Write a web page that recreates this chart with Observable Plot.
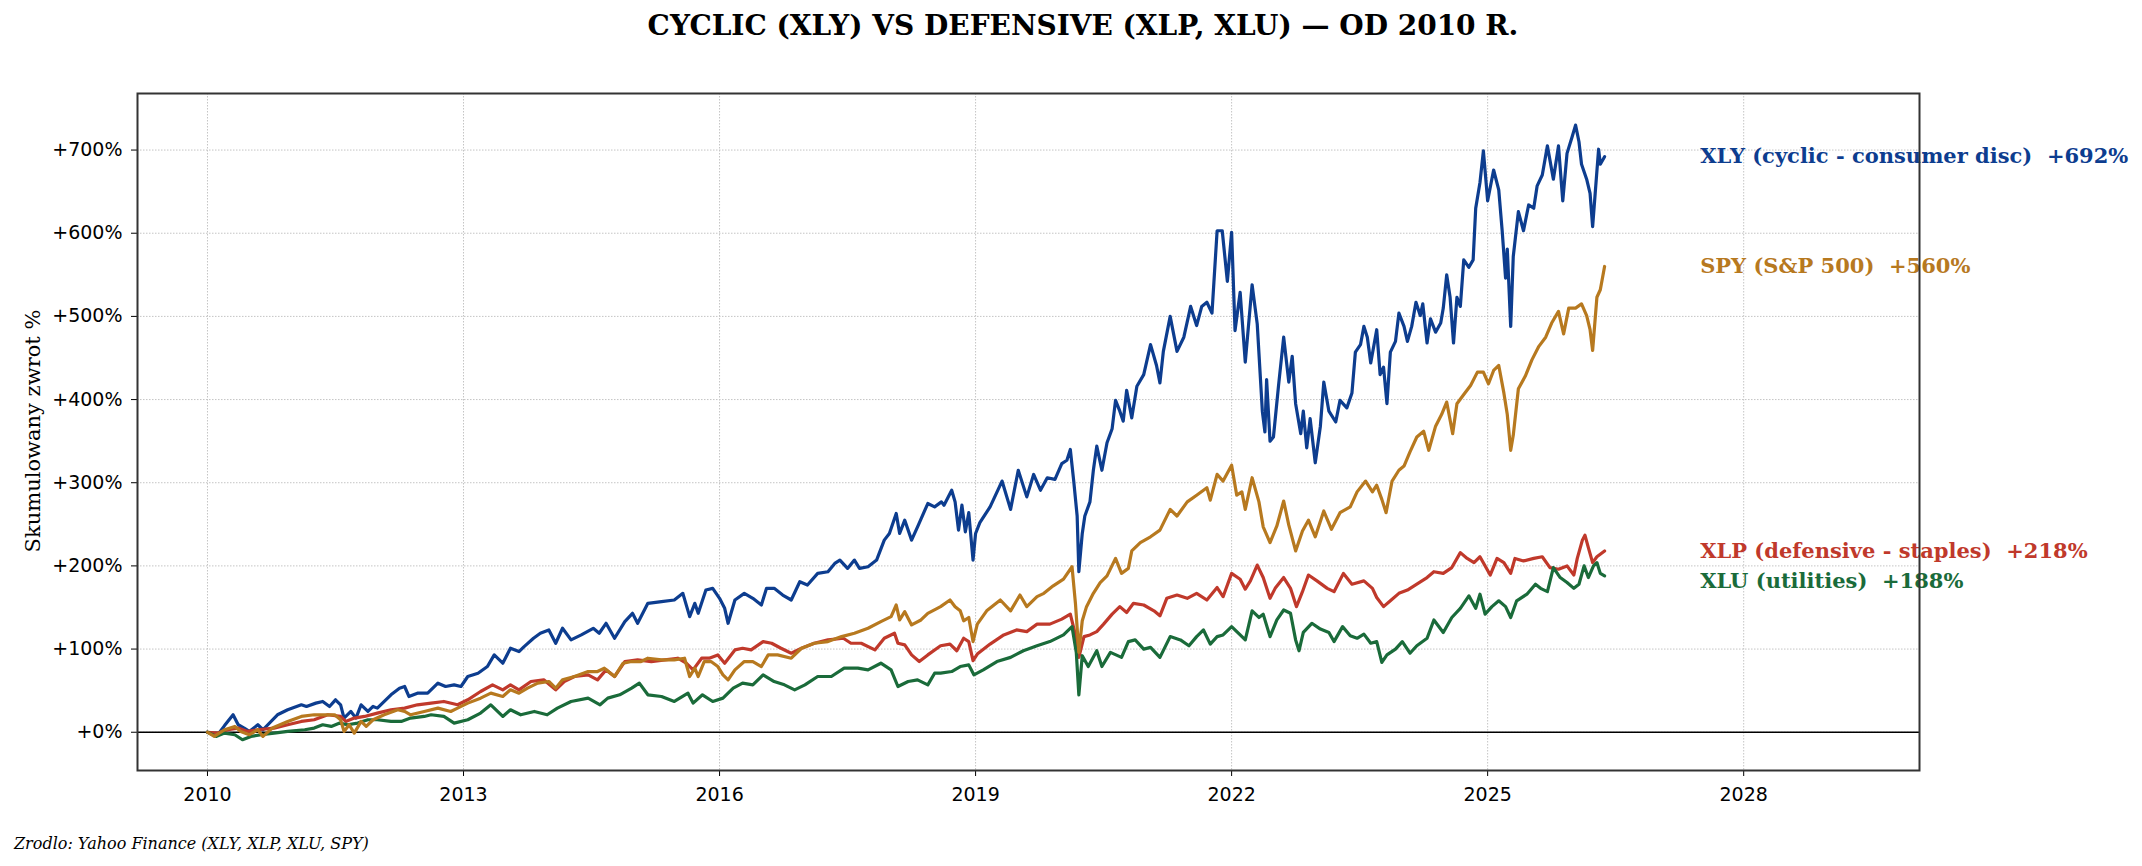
<!DOCTYPE html>
<html>
<head>
<meta charset="utf-8">
<script src="https://cdn.jsdelivr.net/npm/d3@7"></script>
<script src="https://cdn.jsdelivr.net/npm/@observablehq/plot@0.6"></script>
<style>
  html, body { margin: 0; padding: 0; background: #fff; }
  #page { position: relative; width: 2142px; height: 866px; overflow: hidden; background: #fff; }
  #title { position: absolute; left: 0; top: 0; width: 2142px; height: 52px; line-height: 52px; text-align: center;
           font-family: "DejaVu Serif", serif; font-weight: bold; font-size: 28px; color: #000; box-sizing: border-box; padding-left: 24px; }
  #chart { position: absolute; left: 0; top: 50px; }
  #ylabel { position: absolute; left: 33px; top: 431px; transform: translate(-50%, -50%) rotate(-90deg);
            font-family: "DejaVu Serif", serif; font-size: 21px; white-space: nowrap; color: #000; }
  #caption { position: absolute; left: 14px; top: 830px; line-height: 28px; font-family: "DejaVu Serif", serif;
             font-style: italic; font-size: 16px; color: #000; }
  svg text { white-space: pre; }
</style>
</head>
<body>
<div id="page">
  <div id="title">CYCLIC (XLY) VS DEFENSIVE (XLP, XLU) — OD 2010 R.</div>
  <div id="chart"></div>
  <div id="ylabel">Skumulowany zwrot %</div>
  <div id="caption">Zrodlo: Yahoo Finance (XLY, XLP, XLU, SPY)</div>
</div>
<script>
// ---- data: [decimal year, cumulative return %] ----
const XLY = [[2010.00,0],[2010.12,-3],[2010.20,8],[2010.30,21],[2010.36,9],[2010.43,5],[2010.49,1],[2010.59,9],[2010.65,3],[2010.82,21],[2010.94,27],[2011.10,33],[2011.16,31],[2011.27,35],[2011.35,37],[2011.43,31],[2011.50,39],[2011.56,33],[2011.60,17],[2011.68,25],[2011.74,17],[2011.80,33],[2011.88,25],[2011.94,31],[2011.99,29],[2012.15,45],[2012.25,53],[2012.31,55],[2012.36,43],[2012.46,47],[2012.58,47],[2012.70,59],[2012.79,55],[2012.89,57],[2012.97,55],[2013.05,67],[2013.17,71],[2013.28,79],[2013.36,93],[2013.46,83],[2013.55,101],[2013.65,97],[2013.71,103],[2013.82,113],[2013.90,119],[2014.00,123],[2014.08,107],[2014.16,125],[2014.26,111],[2014.38,117],[2014.52,125],[2014.59,119],[2014.67,131],[2014.77,113],[2014.89,133],[2014.98,143],[2015.04,131],[2015.16,155],[2015.32,157],[2015.47,159],[2015.57,167],[2015.65,139],[2015.71,155],[2015.75,143],[2015.84,171],[2015.92,173],[2016.00,161],[2016.06,149],[2016.10,131],[2016.18,159],[2016.29,167],[2016.39,161],[2016.49,153],[2016.55,173],[2016.64,173],[2016.74,165],[2016.84,159],[2016.94,181],[2017.03,177],[2017.15,191],[2017.27,193],[2017.35,203],[2017.41,207],[2017.50,197],[2017.58,207],[2017.64,197],[2017.74,199],[2017.84,207],[2017.93,231],[2017.99,239],[2018.07,263],[2018.11,239],[2018.17,255],[2018.25,231],[2018.32,247],[2018.44,275],[2018.52,271],[2018.60,277],[2018.63,273],[2018.72,291],[2018.76,277],[2018.80,243],[2018.84,273],[2018.88,241],[2018.92,264],[2018.97,207],[2019.00,239],[2019.05,252],[2019.17,271],[2019.31,302],[2019.41,268],[2019.50,315],[2019.60,283],[2019.68,310],[2019.76,291],[2019.84,306],[2019.93,304],[2020.01,323],[2020.07,327],[2020.11,340],[2020.15,302],[2020.19,260],[2020.21,193],[2020.25,239],[2020.28,260],[2020.34,277],[2020.38,315],[2020.42,344],[2020.48,315],[2020.54,348],[2020.60,365],[2020.64,399],[2020.69,386],[2020.73,374],[2020.77,411],[2020.83,378],[2020.89,416],[2020.97,430],[2021.05,466],[2021.12,441],[2021.16,420],[2021.20,458],[2021.28,500],[2021.36,458],[2021.44,475],[2021.52,512],[2021.59,489],[2021.65,512],[2021.71,517],[2021.77,504],[2021.83,603],[2021.89,603],[2021.95,542],[2022.00,601],[2022.04,483],[2022.10,529],[2022.16,445],[2022.24,538],[2022.30,491],[2022.36,386],[2022.39,361],[2022.41,424],[2022.45,350],[2022.49,355],[2022.55,417],[2022.61,475],[2022.67,421],[2022.71,452],[2022.75,395],[2022.81,359],[2022.84,386],[2022.88,342],[2022.92,377],[2022.98,324],[2023.04,368],[2023.08,421],[2023.14,386],[2023.22,373],[2023.27,399],[2023.35,390],[2023.41,408],[2023.45,457],[2023.51,466],[2023.55,488],[2023.59,475],[2023.63,444],[2023.70,484],[2023.74,430],[2023.78,439],[2023.82,395],[2023.86,457],[2023.92,470],[2023.96,504],[2024.02,488],[2024.06,470],[2024.11,488],[2024.16,517],[2024.21,501],[2024.24,515],[2024.29,468],[2024.33,497],[2024.39,481],[2024.45,492],[2024.48,510],[2024.52,550],[2024.56,523],[2024.60,468],[2024.64,523],[2024.68,512],[2024.72,568],[2024.78,559],[2024.83,568],[2024.86,630],[2024.91,661],[2024.95,699],[2025.00,639],[2025.07,676],[2025.13,652],[2025.17,603],[2025.21,546],[2025.23,581],[2025.27,488],[2025.30,572],[2025.36,626],[2025.42,603],[2025.48,634],[2025.54,630],[2025.58,657],[2025.64,670],[2025.70,705],[2025.77,665],[2025.83,705],[2025.88,639],[2025.93,696],[2025.99,716],[2026.03,730],[2026.07,710],[2026.10,683],[2026.16,665],[2026.20,648],[2026.23,608],[2026.26,648],[2026.30,701],[2026.32,683],[2026.37,692]];

const SPY = [[2010.00,0],[2010.08,-5],[2010.20,3],[2010.32,7],[2010.39,1],[2010.49,-3],[2010.59,3],[2010.65,-5],[2010.76,5],[2010.94,13],[2011.10,19],[2011.25,21],[2011.37,21],[2011.49,21],[2011.56,15],[2011.60,1],[2011.66,9],[2011.72,-1],[2011.80,13],[2011.86,7],[2011.94,15],[2012.07,21],[2012.23,27],[2012.31,25],[2012.38,21],[2012.54,25],[2012.70,29],[2012.85,25],[2012.93,29],[2013.05,35],[2013.20,41],[2013.32,47],[2013.46,43],[2013.55,51],[2013.65,47],[2013.75,53],[2013.87,59],[2014.00,61],[2014.08,53],[2014.16,63],[2014.30,67],[2014.46,73],[2014.57,73],[2014.65,77],[2014.77,67],[2014.87,83],[2014.97,85],[2015.08,85],[2015.16,89],[2015.32,87],[2015.47,87],[2015.59,89],[2015.65,67],[2015.71,77],[2015.75,67],[2015.82,85],[2015.90,85],[2015.98,79],[2016.04,69],[2016.10,63],[2016.18,75],[2016.29,85],[2016.39,85],[2016.49,79],[2016.57,93],[2016.68,93],[2016.84,89],[2016.96,101],[2017.11,107],[2017.27,109],[2017.43,115],[2017.58,119],[2017.74,125],[2017.89,133],[2018.01,139],[2018.07,153],[2018.11,135],[2018.17,145],[2018.25,129],[2018.36,135],[2018.44,143],[2018.59,151],[2018.70,159],[2018.76,151],[2018.82,146],[2018.86,134],[2018.92,138],[2018.97,109],[2019.02,130],[2019.13,146],[2019.29,159],[2019.41,146],[2019.52,165],[2019.60,151],[2019.72,163],[2019.80,167],[2019.91,176],[2020.03,184],[2020.13,199],[2020.17,155],[2020.21,96],[2020.25,134],[2020.30,151],[2020.38,167],[2020.46,180],[2020.54,188],[2020.64,209],[2020.71,191],[2020.79,197],[2020.83,218],[2020.93,228],[2021.05,235],[2021.16,243],[2021.28,268],[2021.36,260],[2021.48,277],[2021.59,285],[2021.71,294],[2021.75,279],[2021.83,310],[2021.90,302],[2022.00,321],[2022.06,285],[2022.12,289],[2022.16,268],[2022.24,306],[2022.32,277],[2022.37,247],[2022.45,228],[2022.53,248],[2022.61,278],[2022.67,249],[2022.75,218],[2022.83,242],[2022.90,255],[2022.98,235],[2023.08,266],[2023.17,244],[2023.27,264],[2023.39,271],[2023.47,289],[2023.57,302],[2023.65,289],[2023.70,297],[2023.76,280],[2023.81,264],[2023.88,302],[2023.96,315],[2024.02,320],[2024.09,337],[2024.17,355],[2024.25,362],[2024.31,339],[2024.39,368],[2024.46,382],[2024.52,397],[2024.59,359],[2024.64,395],[2024.72,406],[2024.80,417],[2024.88,433],[2024.95,433],[2025.01,419],[2025.07,435],[2025.13,441],[2025.19,408],[2025.23,382],[2025.27,339],[2025.30,357],[2025.36,413],[2025.44,428],[2025.52,448],[2025.60,464],[2025.68,475],[2025.75,492],[2025.83,506],[2025.89,479],[2025.95,510],[2026.03,510],[2026.10,515],[2026.16,501],[2026.20,484],[2026.23,459],[2026.28,523],[2026.32,532],[2026.37,560]];

const XLP = [[2010.00,0],[2010.12,-1],[2010.24,3],[2010.36,5],[2010.47,1],[2010.59,3],[2010.78,5],[2010.94,9],[2011.10,13],[2011.25,15],[2011.41,21],[2011.56,19],[2011.62,13],[2011.72,17],[2011.84,19],[2011.99,23],[2012.15,27],[2012.31,29],[2012.46,33],[2012.62,35],[2012.77,37],[2012.93,33],[2013.05,39],[2013.20,49],[2013.34,57],[2013.46,51],[2013.55,57],[2013.65,51],[2013.79,61],[2013.94,63],[2014.08,51],[2014.18,61],[2014.30,67],[2014.46,69],[2014.57,63],[2014.67,75],[2014.77,67],[2014.89,85],[2015.04,87],[2015.20,85],[2015.36,87],[2015.51,89],[2015.61,83],[2015.69,75],[2015.79,89],[2015.88,89],[2015.98,93],[2016.06,83],[2016.18,99],[2016.27,101],[2016.37,99],[2016.51,109],[2016.61,107],[2016.72,101],[2016.84,95],[2016.96,101],[2017.11,107],[2017.27,111],[2017.45,113],[2017.54,107],[2017.66,107],[2017.82,99],[2017.93,113],[2018.05,119],[2018.09,107],[2018.17,105],[2018.25,93],[2018.34,85],[2018.44,93],[2018.59,104],[2018.70,106],[2018.78,98],[2018.86,113],[2018.92,109],[2018.97,86],[2019.02,94],[2019.17,106],[2019.33,117],[2019.48,123],[2019.60,121],[2019.72,130],[2019.87,130],[2020.01,136],[2020.11,142],[2020.17,117],[2020.21,90],[2020.27,115],[2020.34,117],[2020.42,121],[2020.50,130],[2020.60,142],[2020.69,151],[2020.77,144],[2020.85,155],[2020.97,153],[2021.09,146],[2021.16,140],[2021.24,161],[2021.36,165],[2021.48,161],[2021.59,167],[2021.71,159],[2021.83,174],[2021.90,163],[2022.00,191],[2022.10,184],[2022.16,172],[2022.22,182],[2022.30,201],[2022.37,186],[2022.45,161],[2022.51,173],[2022.61,186],[2022.69,173],[2022.76,151],[2022.83,169],[2022.90,189],[2023.00,182],[2023.12,173],[2023.20,169],[2023.31,191],[2023.41,178],[2023.55,182],[2023.65,173],[2023.70,162],[2023.78,151],[2023.86,158],[2023.96,167],[2024.06,171],[2024.17,178],[2024.29,186],[2024.37,193],[2024.48,191],[2024.58,198],[2024.68,216],[2024.76,209],[2024.84,204],[2024.91,211],[2025.03,189],[2025.11,209],[2025.19,204],[2025.27,191],[2025.32,209],[2025.42,206],[2025.54,209],[2025.64,211],[2025.73,198],[2025.83,196],[2025.93,200],[2026.01,189],[2026.05,209],[2026.11,231],[2026.14,237],[2026.18,222],[2026.23,204],[2026.28,211],[2026.37,218]];

const XLU = [[2010.00,0],[2010.10,-5],[2010.20,-1],[2010.32,-3],[2010.41,-9],[2010.51,-5],[2010.63,-3],[2010.78,-1],[2010.94,1],[2011.14,3],[2011.25,5],[2011.35,9],[2011.45,7],[2011.55,11],[2011.64,9],[2011.76,11],[2011.88,15],[2011.99,15],[2012.15,13],[2012.27,13],[2012.38,17],[2012.54,19],[2012.62,21],[2012.77,19],[2012.89,11],[2013.05,15],[2013.20,23],[2013.32,33],[2013.46,19],[2013.55,27],[2013.67,21],[2013.83,25],[2013.98,21],[2014.10,29],[2014.26,37],[2014.46,41],[2014.60,33],[2014.69,41],[2014.83,45],[2014.97,53],[2015.06,59],[2015.16,45],[2015.32,43],[2015.47,37],[2015.63,47],[2015.69,35],[2015.80,45],[2015.92,37],[2016.04,41],[2016.16,53],[2016.27,59],[2016.39,57],[2016.51,69],[2016.64,61],[2016.76,57],[2016.88,51],[2017.00,57],[2017.15,67],[2017.31,67],[2017.46,77],[2017.62,77],[2017.74,75],[2017.89,83],[2018.01,75],[2018.09,55],[2018.21,61],[2018.32,63],[2018.44,57],[2018.52,71],[2018.59,71],[2018.72,73],[2018.82,79],[2018.92,81],[2018.98,69],[2019.09,75],[2019.25,85],[2019.41,90],[2019.56,98],[2019.72,104],[2019.87,109],[2020.03,117],[2020.13,127],[2020.18,96],[2020.21,45],[2020.25,92],[2020.32,79],[2020.42,98],[2020.48,79],[2020.58,96],[2020.71,90],[2020.79,109],[2020.87,111],[2020.97,100],[2021.05,102],[2021.16,90],[2021.28,115],[2021.40,111],[2021.50,104],[2021.59,115],[2021.67,123],[2021.75,106],[2021.83,115],[2021.90,117],[2022.00,127],[2022.10,117],[2022.16,111],[2022.24,146],[2022.32,138],[2022.37,142],[2022.45,115],[2022.53,135],[2022.61,147],[2022.69,143],[2022.75,111],[2022.79,98],[2022.84,120],[2022.94,131],[2023.04,124],[2023.14,120],[2023.20,109],[2023.30,127],[2023.39,116],[2023.47,113],[2023.55,118],[2023.63,107],[2023.70,109],[2023.76,84],[2023.82,93],[2023.92,100],[2024.00,109],[2024.09,95],[2024.17,104],[2024.29,113],[2024.37,135],[2024.48,120],[2024.58,138],[2024.68,149],[2024.78,164],[2024.86,149],[2024.91,166],[2024.97,142],[2025.05,151],[2025.13,158],[2025.21,151],[2025.27,138],[2025.34,158],[2025.46,166],[2025.56,178],[2025.62,173],[2025.70,169],[2025.77,198],[2025.85,186],[2025.93,180],[2026.01,173],[2026.07,178],[2026.13,200],[2026.18,186],[2026.24,200],[2026.28,204],[2026.32,191],[2026.37,188]];

const seriesNames  = ["XLY", "XLP", "XLU", "SPY"];
const seriesLabels = ["XLY (cyclic - consumer disc)", "XLP (defensive - staples)", "XLU (utilities)", "SPY (S&P 500)"];
const seriesColors = ["#0d3d8f", "#c0392b", "#1a6b3a", "#b7791f"];
const seriesData   = [XLY, XLP, XLU, SPY];

const xTicks = [2010, 2013, 2016, 2019, 2022, 2025, 2028];
const yTicks = [0, 100, 200, 300, 400, 500, 600, 700];

// ---- end labels (avoid overlap) ----
const LABEL_X = 2027.49;
const MIN_GAP = 37;
const ends = seriesNames.map((n, i) => {
  const last = seriesData[i][seriesData[i].length - 1][1];
  return {i, value: last, y: last, text: seriesLabels[i] + "  +" + last + "%", color: seriesColors[i]};
}).sort((a, b) => b.value - a.value);
for (let k = 1; k < ends.length; k++) {
  if (ends[k - 1].y - ends[k].y < MIN_GAP) ends[k].y = ends[k - 1].y - MIN_GAP;
}

const marks = [
  Plot.ruleX(xTicks, {stroke: "#c4c4c4", strokeWidth: 1, strokeDasharray: "1.5,1.5"}),
  Plot.ruleY(yTicks, {stroke: "#c4c4c4", strokeWidth: 1, strokeDasharray: "1.5,1.5"}),
  Plot.ruleY([0], {stroke: "#000", strokeWidth: 1.5}),
  ...seriesData.map((d, i) => Plot.line(d, {x: p => p[0], y: p => p[1], stroke: seriesColors[i], strokeWidth: 3.2, strokeLinejoin: "round"})),
  ...ends.map(e => Plot.text([e], {x: () => LABEL_X, y: "y", text: "text", fill: e.color, textAnchor: "start",
                                    fontFamily: "DejaVu Serif", fontWeight: "bold", fontSize: 21})),
  Plot.frame({stroke: "#333", strokeWidth: 2})
];

const chart = Plot.plot({
  width: 2142,
  height: 780,
  marginTop: 43,
  marginBottom: 60,
  marginLeft: 137,
  marginRight: 223,
  style: {fontFamily: "DejaVu Sans", fontSize: "19px", background: "#fff", color: "#000", overflow: "visible"},
  x: {type: "linear", domain: [2009.18, 2030.06], ticks: xTicks, tickFormat: d => String(d), label: null, tickSize: 6, tickPadding: 11},
  y: {type: "linear", domain: [-46, 768], ticks: yTicks, tickFormat: d => "+" + d + "%", label: null, tickSize: 6, tickPadding: 9},
  marks
});
document.getElementById("chart").appendChild(chart);
</script>
</body>
</html>
